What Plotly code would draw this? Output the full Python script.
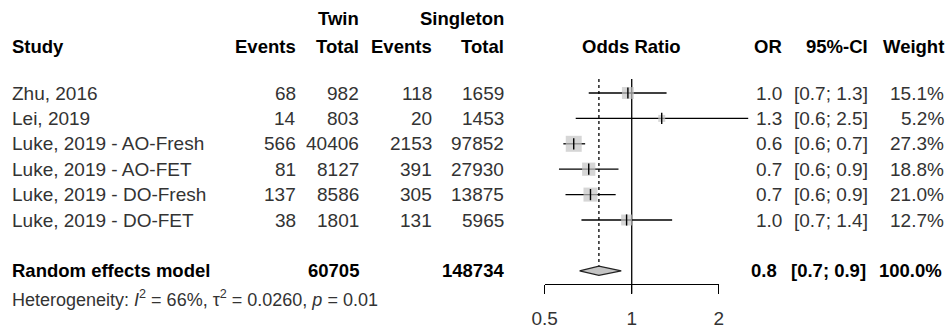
import math
import plotly.graph_objects as go

# ---------------- data ----------------
studies = ["Zhu, 2016", "Lei, 2019", "Luke, 2019 - AO-Fresh", "Luke, 2019 - AO-FET",
           "Luke, 2019 - DO-Fresh", "Luke, 2019 - DO-FET"]
ev_twin = [68, 14, 566, 81, 137, 38]
tot_twin = [982, 803, 40406, 8127, 8586, 1801]
ev_sing = [118, 20, 2153, 391, 305, 131]
tot_sing = [1659, 1453, 97852, 27930, 13875, 5965]
or_est = [0.97, 1.27, 0.63, 0.71, 0.72, 0.96]
ci_lo = [0.71, 0.64, 0.58, 0.56, 0.59, 0.67]
ci_hi = [1.32, 2.53, 0.69, 0.90, 0.88, 1.38]
weights = [15.1, 5.2, 27.3, 18.8, 21.0, 12.7]

re_label = "Random effects model"
re_tot_twin = 60705
re_tot_sing = 148734
re_est = 0.77
re_lo = 0.66
re_hi = 0.92
re_weight = 100.0
het_text = "Heterogeneity: <i>I</i><sup>2</sup> = 66%, τ<sup>2</sup> = 0.0260, <i>p</i> = 0.01"

axis_ticks = [0.5, 1, 2]
axis_ticktext = ["0.5", "1", "2"]

# ---------------- layout geometry ----------------
W, H = 950, 333
row0_px, row_step = 93.0, 25.4
y_top = (0 - row0_px) / row_step
y_bot = (H - row0_px) / row_step
x_range = [-2.186, 1.1014]  # log10 range across the full width
FONT = "Liberation Sans, Arial, sans-serif"
TXT = "#333333"
FS = 19
FSB = 18.5


def px_x(px):
    return px / W


def logpos(v):
    return (math.log10(v) - x_range[0]) / (x_range[1] - x_range[0])


fig = go.Figure()

# reference lines
fig.add_trace(go.Scatter(x=[1, 1], y=[-0.55, 7.9], mode="lines",
                         line=dict(color="black", width=1.3), hoverinfo="skip"))
fig.add_trace(go.Scatter(x=[re_est, re_est], y=[-0.55, 6.8], mode="lines",
                         line=dict(color="black", width=1.3, dash="dot"), hoverinfo="skip"))

# study CIs, squares, point ticks
for i in range(len(studies)):
    fig.add_trace(go.Scatter(x=[ci_lo[i], ci_hi[i]], y=[i, i], mode="lines",
                             line=dict(color="black", width=1.3), hoverinfo="skip"))
fig.add_trace(go.Scatter(x=or_est, y=list(range(len(studies))), mode="markers",
                         marker=dict(symbol="square", color="#c4c4c4",
                                     size=[3.06 * math.sqrt(w) for w in weights],
                                     line=dict(width=0)), hoverinfo="skip"))
fig.add_trace(go.Scatter(x=or_est, y=list(range(len(studies))), mode="markers",
                         marker=dict(symbol="line-ns", size=8,
                                     line=dict(color="black", width=1.4)), hoverinfo="skip"))

# diamond
re_row = 7
dh = 0.18
fig.add_trace(go.Scatter(x=[re_lo, re_est, re_hi, re_est, re_lo],
                         y=[re_row, re_row - dh, re_row, re_row + dh, re_row],
                         mode="lines", fill="toself", fillcolor="#c4c4c4",
                         line=dict(color="#222222", width=1.2), hoverinfo="skip"))

# axis helper trace
fig.add_trace(go.Scatter(x=[1], y=[7.5], xaxis="x2", yaxis="y", mode="markers",
                         marker=dict(opacity=0), hoverinfo="skip"))


def ann(text, px, row, anchor="right", bold=False, size=None, color=TXT):
    if size is None:
        size = FSB if bold else FS
    if bold:
        text = "<b>" + text + "</b>"
        color = "black"
    fig.add_annotation(text=text, x=px_x(px), xref="paper", y=row, yref="y",
                       xanchor=anchor, yanchor="middle", showarrow=False,
                       font=dict(family=FONT, size=size, color=color))


# headers
hdr1 = (18 - row0_px) / row_step
hdr2 = (46 - row0_px) / row_step
ann("Twin", 361, hdr1, bold=True)
ann("Singleton", 506, hdr1, bold=True)
ann("Study", 10, hdr2, anchor="left", bold=True)
ann("Events", 298, hdr2, bold=True)
ann("Total", 361, hdr2, bold=True)
ann("Events", 434, hdr2, bold=True)
ann("Total", 506, hdr2, bold=True)
ann("Odds Ratio", 631, hdr2, anchor="center", bold=True)
ann("OR", 784, hdr2, bold=True)
ann("95%-CI", 870, hdr2, bold=True)
ann("Weight", 946, hdr2, bold=True)

# rows
for i, s in enumerate(studies):
    ann(s, 10, i, anchor="left")
    ann(str(ev_twin[i]), 298, i)
    ann(str(tot_twin[i]), 361, i)
    ann(str(ev_sing[i]), 434, i)
    ann(str(tot_sing[i]), 506, i)
    ann(f"{or_est[i]:.1f}", 784, i)
    ann(f"[{ci_lo[i]:.1f}; {ci_hi[i]:.1f}]", 870, i)
    ann(f"{weights[i]:.1f}%", 946, i)

ann(re_label, 10, re_row, anchor="left", bold=True)
ann(str(re_tot_twin), 361, re_row, bold=True)
ann(str(re_tot_sing), 506, re_row, bold=True)
ann(f"{re_est:.1f}", 779, re_row, bold=True)
ann(f"[{re_lo:.1f}; {re_hi:.1f}]", 868, re_row, bold=True)
ann(f"{re_weight:.1f}%", 944, re_row, bold=True)

het_row = (298 - row0_px) / row_step
ann(het_text, 10, het_row, anchor="left", size=18)

axis_px = 284
fig.update_layout(
    width=W, height=H, margin=dict(l=0, r=0, t=0, b=0, autoexpand=False),
    paper_bgcolor="white", plot_bgcolor="rgba(0,0,0,0)", showlegend=False,
    xaxis=dict(type="log", range=x_range, domain=[0, 1], visible=False, fixedrange=True,
               automargin=False),
    yaxis=dict(range=[y_bot, y_top], domain=[0, 1], visible=False, fixedrange=True,
               automargin=False),
    xaxis2=dict(type="log", range=[math.log10(axis_ticks[0]), math.log10(axis_ticks[-1])],
                domain=[logpos(axis_ticks[0]), logpos(axis_ticks[-1])],
                anchor="free", position=1 - axis_px / H, automargin=False,
                showline=True, linecolor="black", linewidth=1.3,
                ticks="outside", ticklen=9, tickwidth=1.3, tickcolor="black",
                tickvals=axis_ticks, ticktext=axis_ticktext,
                tickfont=dict(family=FONT, size=FS, color=TXT),
                ticklabelstandoff=8,
                showgrid=False, zeroline=False, fixedrange=True),
)

fig.write_html("out.html")
